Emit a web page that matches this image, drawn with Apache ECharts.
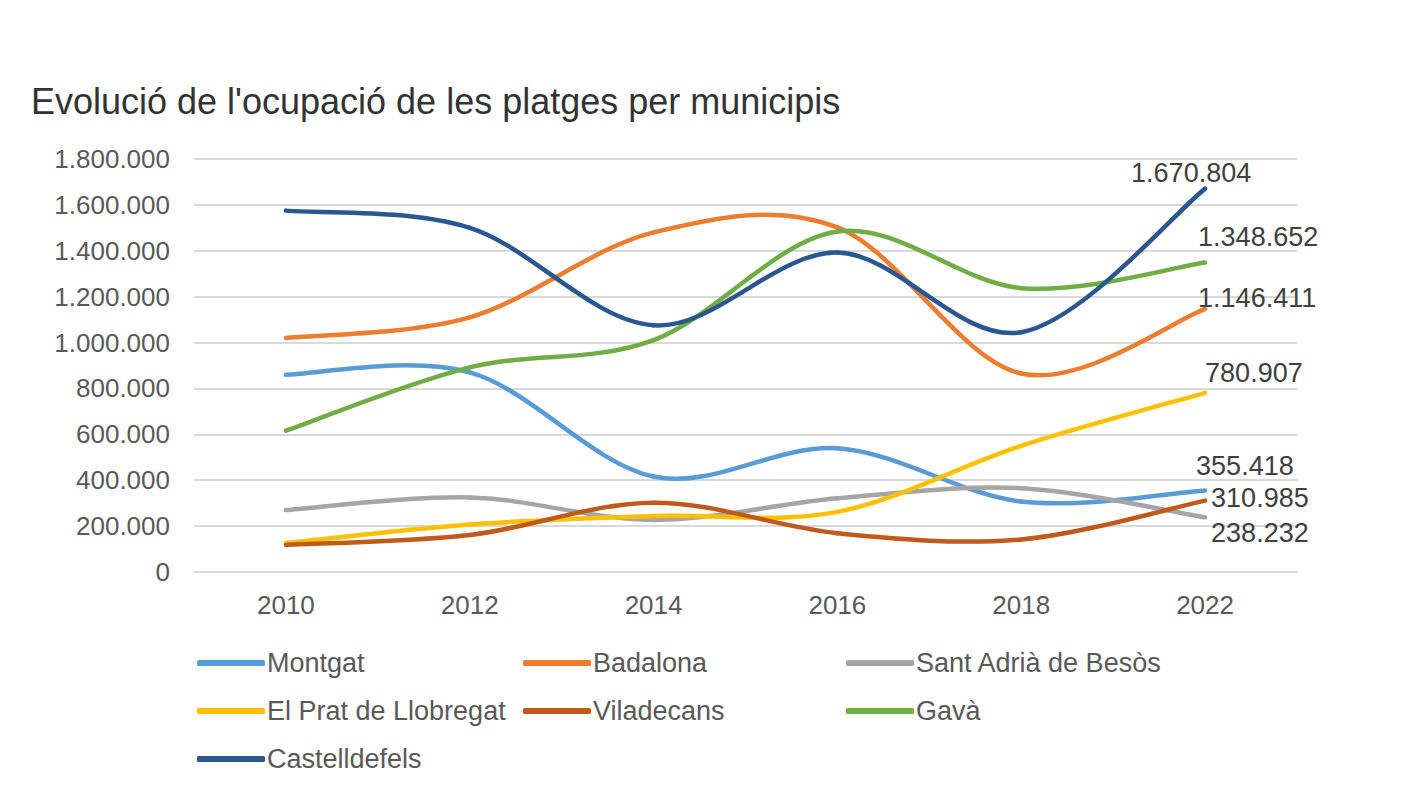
<!DOCTYPE html>
<html>
<head>
<meta charset="utf-8">
<script src="https://cdn.jsdelivr.net/npm/echarts@6/dist/echarts.min.js"></script>
<style>
  html, body { margin: 0; padding: 0; background: #fff; }
  #chart { width: 1415px; height: 798px; }
</style>
</head>
<body>
<div id="chart"></div>
<script>
var years = ['2010', '2012', '2014', '2016', '2018', '2022'];

var montgat = [860000, 870000, 416000, 539000, 307000, 355418];
var badalona = [1020000, 1110000, 1480000, 1502000, 865000, 1146411];
var santAdria = [270000, 325000, 227000, 321000, 365000, 238232];
var elPrat = [126000, 207000, 244000, 262000, 550000, 780907];
var viladecans = [118000, 161000, 302000, 169000, 142000, 310985];
var gava = [616000, 892000, 1011000, 1484000, 1237000, 1348652];
var castelldefels = [1575000, 1500000, 1075000, 1392000, 1045000, 1670804];

var yTicks = { min: 0, max: 1800000, interval: 200000 };

(function() {
  var ink = '#333333';
  var muted = '#595959';
  var rule = '#d9d9d9';
  var font = 'Liberation Sans, Arial, sans-serif';

  function fmt(v) {
    return String(Math.round(v)).replace(/\B(?=(\d{3})+(?!\d))/g, '.');
  }

  // smooth line like the spreadsheet one: one bezier per segment, catmull-rom control points
  function curve(name, values, color, labelOffset) {
    var n = values.length;
    return {
      name: name,
      type: 'custom',
      data: values.map(function(v, i) { return [i, v]; }),
      encode: { x: 0, y: 1 },
      itemStyle: { color: color },
      renderItem: function(params, api) {
        var i = params.dataIndex;
        var pt = function(k) {
          k = Math.max(0, Math.min(n - 1, k));
          return api.coord([k, values[k]]);
        };
        var p1 = pt(i);
        if (i < n - 1) {
          var p0 = pt(i - 1), p2 = pt(i + 1), p3 = pt(i + 2);
          return {
            type: 'bezierCurve',
            shape: {
              x1: p1[0], y1: p1[1], x2: p2[0], y2: p2[1],
              cpx1: p1[0] + (p2[0] - p0[0]) / 6, cpy1: p1[1] + (p2[1] - p0[1]) / 6,
              cpx2: p2[0] - (p3[0] - p1[0]) / 6, cpy2: p2[1] - (p3[1] - p1[1]) / 6
            },
            style: { stroke: color, lineWidth: 4.5, fill: 'none', lineCap: 'round' }
          };
        }
        return {
          type: 'text',
          x: p1[0] + labelOffset[0],
          y: p1[1] + labelOffset[1],
          style: {
            text: fmt(values[i]),
            fill: '#404040',
            font: '27px ' + font,
            align: 'left',
            verticalAlign: 'middle'
          }
        };
      }
    };
  }

  var chart = echarts.init(document.getElementById('chart'), null, { renderer: 'svg' });
  chart.setOption({
    animation: false,
    textStyle: { fontFamily: font },
    title: {
      text: "Evolució de l'ocupació de les platges per municipis",
      left: 26,
      top: 78,
      textStyle: { color: ink, fontSize: 36, fontWeight: 'normal', fontFamily: font }
    },
    grid: { left: 194, right: 118, top: 159, bottom: 226 },
    xAxis: {
      type: 'category',
      data: years,
      boundaryGap: true,
      axisLine: { lineStyle: { color: rule, width: 2 } },
      axisTick: { show: false },
      axisLabel: { color: muted, fontSize: 26, margin: 20 }
    },
    yAxis: {
      type: 'value',
      min: yTicks.min,
      max: yTicks.max,
      interval: yTicks.interval,
      axisLine: { show: false },
      axisTick: { show: false },
      axisLabel: { color: muted, fontSize: 26, margin: 24, formatter: fmt },
      splitLine: { lineStyle: { color: rule, width: 2 } }
    },
    legend: [
      {
        data: ['Montgat', 'El Prat de Llobregat', 'Castelldefels'],
        left: 197, top: 648, orient: 'vertical'
      },
      {
        data: ['Badalona', 'Viladecans'],
        left: 523, top: 648, orient: 'vertical'
      },
      {
        data: ['Sant Adrià de Besòs', 'Gavà'],
        left: 846, top: 648, orient: 'vertical'
      }
    ].map(function(l) {
      l.icon = 'roundRect';
      l.itemWidth = 68;
      l.itemHeight = 6;
      l.itemGap = 18;
      l.padding = 0;
      l.selectedMode = false;
      l.textStyle = { color: muted, fontSize: 27, lineHeight: 30, padding: [0, 0, 0, -3] };
      return l;
    }),
    series: [
      curve('Montgat', montgat, '#5b9bd5', [-9, -24]),
      curve('Badalona', badalona, '#ed7d31', [-7, -11]),
      curve('Sant Adrià de Besòs', santAdria, '#a5a5a5', [6, 16]),
      curve('El Prat de Llobregat', elPrat, '#ffc000', [0, -20]),
      curve('Viladecans', viladecans, '#c0591c', [6, -3]),
      curve('Gavà', gava, '#70ad47', [-7, -26]),
      curve('Castelldefels', castelldefels, '#2b5790', [-74, -16])
    ]
  });
  window.addEventListener('resize', function() { chart.resize(); });
})();
</script>
</body>
</html>
